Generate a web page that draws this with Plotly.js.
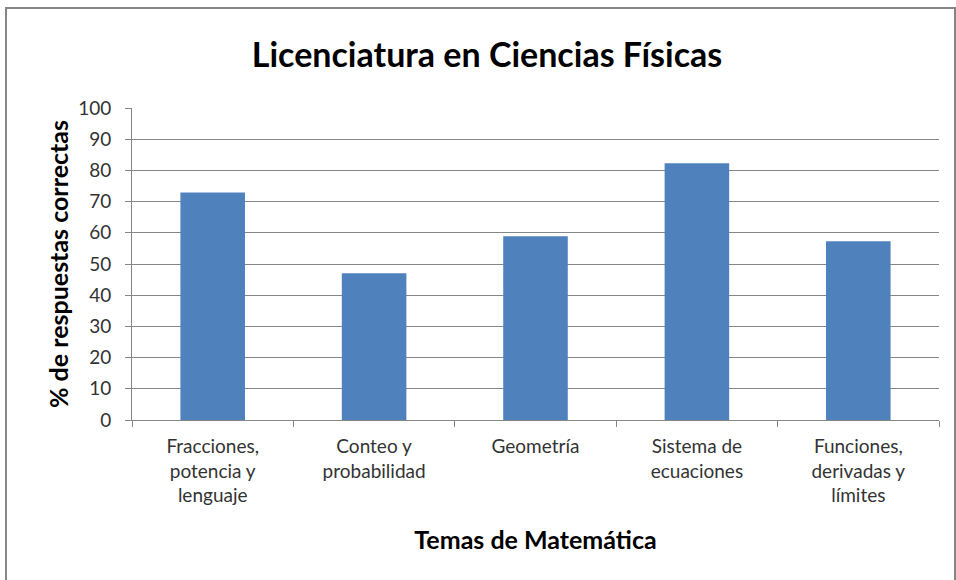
<!DOCTYPE html>
<html>
<head>
<meta charset="utf-8">
<script src="https://cdn.plot.ly/plotly-3.0.1.min.js"></script>
<style>
html,body{margin:0;padding:0;background:#fff;}
#chart{width:956px;height:580px;}
</style>
</head>
<body>
<div id="chart"></div>
<script>
const categories = [
  "Fracciones,<br>potencia y<br>lenguaje",
  "Conteo y<br>probabilidad",
  "Geometría",
  "Sistema de<br>ecuaciones",
  "Funciones,<br>derivadas y<br>límites"
];
const values = [72.9, 47.0, 58.9, 82.3, 57.3];
const yTicks = [0, 10, 20, 30, 40, 50, 60, 70, 80, 90, 100];

const font = "Lato, 'Open Sans', sans-serif";

const trace = {
  type: "bar",
  x: categories,
  y: values,
  marker: {color: "#4F81BD"},
  hoverinfo: "x+y"
};

const layout = {
  width: 956,
  height: 580,
  margin: {l: 132, r: 17, t: 108, b: 160},
  paper_bgcolor: "#ffffff",
  plot_bgcolor: "#ffffff",
  showlegend: false,
  bargap: 0.6,
  font: {family: font, color: "#000"},
  title: {
    text: "<b>Licenciatura en Ciencias Físicas</b>",
    font: {family: font, size: 34, color: "#000"},
    x: 487/956, xanchor: "center",
    y: 1 - 55/580, yanchor: "middle"
  },
  xaxis: {
    type: "category",
    showline: true, linecolor: "#868686", linewidth: 1,
    ticks: "outside", tickson: "boundaries", ticklen: 6, tickcolor: "#868686",
    ticklabelstandoff: 9,
    showgrid: false,
    tickfont: {family: font, size: 19, color: "#333"},
    title: {text: "<b>Temas de Matemática</b>", font: {family: font, size: 25, color: "#000"}, standoff: 26},
    automargin: false,
    fixedrange: true
  },
  yaxis: {
    range: [0, 100],
    tickvals: yTicks,
    showline: true, linecolor: "#868686", linewidth: 1,
    ticks: "outside", ticklen: 6, tickcolor: "#868686",
    ticklabelstandoff: 10,
    showgrid: true, gridcolor: "#868686", gridwidth: 1,
    zeroline: false,
    tickfont: {family: font, size: 19, color: "#333"},
    title: {text: "<b>% de respuestas correctas</b>", font: {family: font, size: 25, color: "#000"}, standoff: 2},
    automargin: false,
    fixedrange: true
  },
  shapes: [{
    type: "rect", xref: "paper", yref: "paper",
    x0: (6 - 132)/807, x1: (955 - 132)/807,
    y0: (420 - 590)/312, y1: (420 - 8)/312,
    line: {color: "#868686", width: 2}, fillcolor: "rgba(0,0,0,0)", layer: "below"
  }]
};

Plotly.newPlot("chart", [trace], layout, {displayModeBar: false, staticPlot: true});
</script>
</body>
</html>
